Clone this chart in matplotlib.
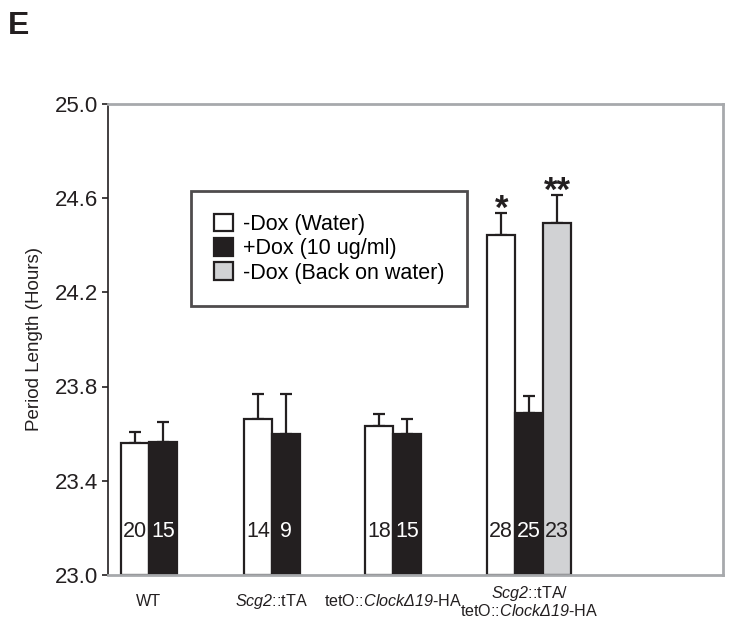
import numpy as np
import matplotlib
matplotlib.use("Agg")
import matplotlib.pyplot as plt
from matplotlib.patches import Patch

plt.rcParams['font.family'] = ['Liberation Sans', 'DejaVu Sans']
plt.rcParams['mathtext.fontset'] = 'custom'
plt.rcParams['mathtext.rm'] = 'Liberation Sans:italic'
plt.rcParams['mathtext.it'] = 'Liberation Sans:italic'

# data
groups = ['WT', r'$\mathrm{Scg2}$::tTA', r'tetO::$\mathrm{Clock\Delta19}$-HA',
          '$\\mathrm{Scg2}$::tTA/\ntetO::$\\mathrm{Clock\\Delta19}$-HA']
water = [23.56, 23.662, 23.633, 24.445]
water_err = [0.045, 0.105, 0.051, 0.091]
dox = [23.565, 23.60, 23.60, 23.689]
dox_err = [0.085, 0.167, 0.062, 0.072]
back = [np.nan, np.nan, np.nan, 24.493]
back_err = [np.nan, np.nan, np.nan, 0.12]
n_water = [20, 14, 18, 28]
n_dox = [15, 9, 15, 25]
n_back = [None, None, None, 23]
stars = ['', '', '', '*']
stars_back = ['', '', '', '**']

labels = ['-Dox (Water)', '+Dox (10 ug/ml)', '-Dox (Back on water)']
colors = ['white', '#231f20', '#d1d2d4']

group_pos = np.array([1.46, 5.85, 10.18, 15.04])
w = 1.0

fig = plt.figure(figsize=(7.4, 6.25), dpi=100)
ax = fig.add_axes([0.146, 0.08, 0.831, 0.754])

ink = '#231f20'
err_kw = dict(ecolor=ink, elinewidth=1.6, capsize=4, capthick=1.6)

for i, g in enumerate(group_pos):
    has_back = not np.isnan(back[i])
    offs = [-1, 0, 1] if has_back else [-0.5, 0.5]
    vals = [water[i], dox[i]] + ([back[i]] if has_back else [])
    errs = [water_err[i], dox_err[i]] + ([back_err[i]] if has_back else [])
    ns = [n_water[i], n_dox[i]] + ([n_back[i]] if has_back else [])
    for k, (o, v, e, n) in enumerate(zip(offs, vals, errs, ns)):
        x = g + o
        ax.bar(x, v - 23.0, bottom=23.0, width=w, color=colors[k],
               edgecolor=ink, linewidth=1.6, zorder=2)
        ax.errorbar(x, v, yerr=[[0], [e]], fmt='none', zorder=1, **err_kw)
        ax.text(x, 23.185, str(n), ha='center', va='center', fontsize=15.5,
                color='white' if k == 1 else ink, zorder=3)
    if stars[i]:
        ax.annotate(stars[i], (g + offs[0], water[i] + water_err[i]),
                    xytext=(0, -4.5), textcoords='offset points', ha='center',
                    va='baseline', fontsize=25, fontweight='bold', color=ink)
    if stars_back[i]:
        ax.annotate(stars_back[i], (g + offs[-1], back[i] + back_err[i]),
                    xytext=(0, -4.5), textcoords='offset points', ha='center',
                    va='baseline', fontsize=25, fontweight='bold', color=ink)

ax.set_xlim(0, 21.96)
ax.set_ylim(23.0, 25.0)
ax.set_yticks([23.0, 23.4, 23.8, 24.2, 24.6, 25.0])
ax.set_yticklabels(['23.0', '23.4', '23.8', '24.2', '24.6', '25.0'])
ax.tick_params(axis='y', labelsize=16, length=4, width=1.2, color=ink,
               labelcolor=ink, pad=3)
ax.set_xticks(group_pos)
ax.set_xticklabels(groups, fontsize=11.6, color=ink, linespacing=1.0, va='center')
ax.tick_params(axis='x', length=0, pad=19)
ax.set_ylabel('Period Length (Hours)', fontsize=13.5, color=ink, labelpad=9)

for s in ['top', 'right', 'bottom']:
    ax.spines[s].set_color('#a7a9ac')
    ax.spines[s].set_linewidth(2)
ax.spines['left'].set_color(ink)
ax.spines['left'].set_linewidth(1.2)

handles = [Patch(facecolor=c, edgecolor=ink, linewidth=1.6) for c in colors]
leg = ax.legend(handles, labels, loc='upper left', bbox_to_anchor=(0.135, 0.815),
                fontsize=15.5, frameon=True, fancybox=False, handlelength=0.9,
                handleheight=0.9, handletextpad=0.45, borderpad=1.05,
                labelspacing=0.14, borderaxespad=0)
leg.get_frame().set_edgecolor(ink)
leg.get_frame().set_linewidth(2)

fig.text(0.011, 0.945, 'E', fontsize=23, fontweight='bold', color=ink)

fig.savefig('out.png', dpi=100)
